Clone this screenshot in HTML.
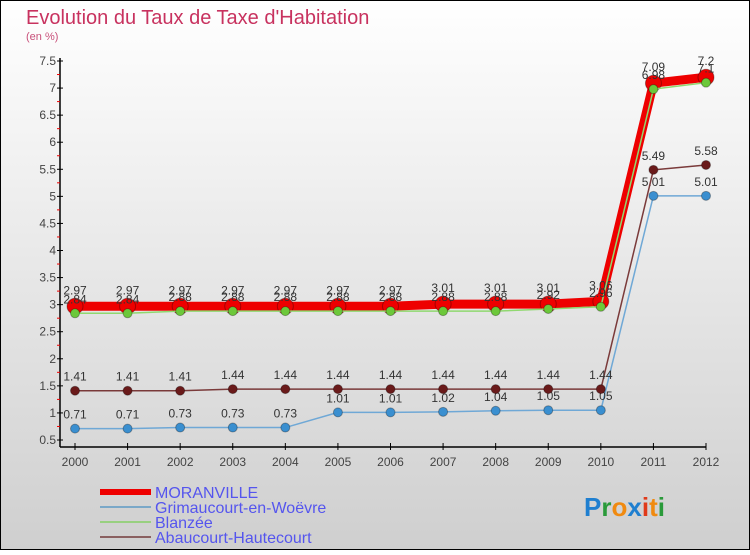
<!DOCTYPE html>
<html><head><meta charset="utf-8"><style>
body{margin:0}
#c{width:750px;height:550px;position:relative;font-family:"Liberation Sans",sans-serif}
</style></head><body>
<div id="c">
<svg id="s" width="750" height="550" xmlns="http://www.w3.org/2000/svg">
<defs><linearGradient id="bg" x1="0" y1="0" x2="0" y2="1"><stop offset="0" stop-color="#ffffff"/><stop offset="1" stop-color="#cfcfcf"/></linearGradient></defs>
<rect x="0.5" y="0.5" width="749" height="549" fill="url(#bg)" stroke="#000"/>
<text x="26" y="24" font-size="20" fill="#c8325f">Evolution du Taux de Taxe d'Habitation</text>
<text x="26" y="40" font-size="11" fill="#c8507a">(en %)</text>
<g id="axes"></g><g id="series"></g>
<g id="legend"></g>
<text x="584" y="516" font-size="26" font-weight="bold"><tspan fill="#1f7fd0">P</tspan><tspan fill="#2a9a3a">r</tspan><tspan fill="#f08a10">o</tspan><tspan fill="#1f7fd0">x</tspan><tspan fill="#e03a1a">i</tspan><tspan fill="#f08a10">t</tspan><tspan fill="#2a9a3a">i</tspan></text>
</svg></div>
<script>
const years=[2000,2001,2002,2003,2004,2005,2006,2007,2008,2009,2010,2011,2012];
const yTicks=[0.5,1,1.5,2,2.5,3,3.5,4,4.5,5,5.5,6,6.5,7,7.5];
const moranville=[2.97,2.97,2.97,2.97,2.97,2.97,2.97,3.01,3.01,3.01,3.06,7.09,7.2];
const grimaucourt=[0.71,0.71,0.73,0.73,0.73,1.01,1.01,1.02,1.04,1.05,1.05,5.01,5.01];
const blanzee=[2.84,2.84,2.88,2.88,2.88,2.88,2.88,2.88,2.88,2.92,2.96,6.98,7.1];
const abaucourt=[1.41,1.41,1.41,1.44,1.44,1.44,1.44,1.44,1.44,1.44,1.44,5.49,5.58];
const NS="http://www.w3.org/2000/svg";
const X=i=>75+i*(706-75)/12;
const Y=v=>440-(v-0.5)*(440-61)/7;
function mk(p,t,a){const e=document.createElementNS(NS,t);for(const k in a)e.setAttribute(k,a[k]);p.appendChild(e);return e;}
const ax=document.getElementById('axes');
let l=mk(ax,'line',{x1:60,y1:58,x2:60,y2:447,stroke:'#000','stroke-width':1.5});


l=mk(ax,'line',{x1:60,y1:541-94,x2:706,y2:447,stroke:'#000','stroke-width':1.5});


yTicks.forEach(v=>{
  mk(ax,'line',{x1:57,y1:Y(v),x2:63,y2:Y(v),stroke:'#000'});
  if(v<7.5)mk(ax,'line',{x1:57,y1:Y(v+0.25),x2:60,y2:Y(v+0.25),stroke:'#e00'});
  const t=mk(ax,'text',{x:56,y:Y(v)+4,'font-size':12,fill:'#444','text-anchor':'end'});
  t.textContent=v;
  
  
});
years.forEach((yr,i)=>{
  mk(ax,'line',{x1:X(i),y1:443,x2:X(i),y2:450,stroke:'#000'});
  const t=mk(ax,'text',{x:X(i),y:466,'font-size':12,fill:'#444','text-anchor':'middle'});
  t.textContent=yr;
  
  
});
const sg=document.getElementById('series');
function series(name,vals,color,w,r,dot,dy){
  const g=mk(sg,'g',{});
  
  
  const pl=mk(g,'polyline',{points:vals.map((v,i)=>X(i)+','+Y(v)).join(' '),fill:'none',stroke:color,'stroke-width':w,'stroke-linejoin':'round'});
  
  
  vals.forEach((v,i)=>{
    const c=mk(g,'circle',{cx:X(i),cy:Y(v),r:r,fill:dot,stroke:'rgba(0,0,0,0.3)'});
    
    
    const t=mk(g,'text',{x:X(i),y:Y(v)+dy,'font-size':12,fill:'#333','text-anchor':'middle'});
    t.textContent=String(v).replace(/^0\./,'0.');
    
    
  });
}
series('grimaucourt',grimaucourt,'#6fa8d6',1.5,4.5,'#3a8fd0',-10);
series('abaucourt',abaucourt,'#7a3a3a',1.5,4.5,'#6a1a1a',-10);
series('moranville',moranville,'#ee0000',9,8,'#ee0000',-12);
series('blanzee',blanzee,'#90d870',1.5,4.5,'#6cc83a',-10);
const lg=document.getElementById('legend');
[['MORANVILLE','#ee0000',6],['Grimaucourt-en-Woëvre','#7aa8c8',2],['Blanzée','#98d080',2],['Abaucourt-Hautecourt','#8a6060',2]].forEach((d,i)=>{
  const y=492+i*15;
  const g=mk(lg,'g',{});
  
  
  mk(g,'line',{x1:100,y1:y,x2:151,y2:y,stroke:d[1],'stroke-width':d[2]});
  const t=mk(g,'text',{x:155,y:y+6,'font-size':16,fill:'#5555ee'});
  t.textContent=d[0];
});
</script>
</body></html>
